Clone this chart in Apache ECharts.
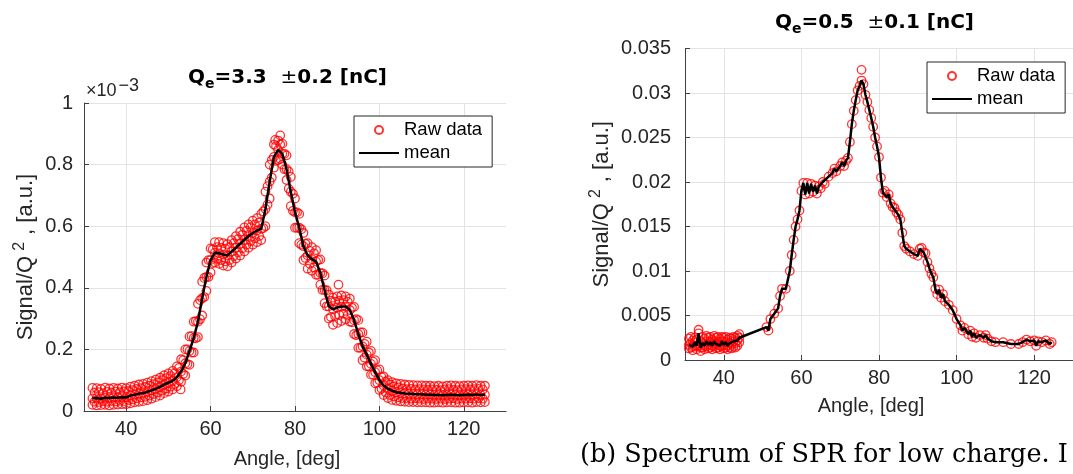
<!DOCTYPE html>
<html lang="en">
  <head>
    <meta charset="UTF-8" />
    <title>SPR spectra</title>
    <style>
      html, body { margin: 0; padding: 0; background: #fff; }
    </style>
  </head>
  <body>
    <div id="main" style="width: 1073px; height: 474px"></div>
    <script src="https://cdn.jsdelivr.net/npm/echarts@6.0.0/dist/echarts.min.js"></script>
    <script>
      // tick values shared by both panels
      const angleTicks = [40, 60, 80, 100, 120];

      // left panel, Q_e = 3.3 nC, signal in units of 1e-3
      const leftAngle = [
        32, 33, 34, 35, 36, 37, 38, 39, 40, 41,
        42, 43, 44, 45, 46, 47, 48, 49, 50, 51,
        52, 53, 54, 55, 56, 57, 58, 59, 60, 61,
        62, 63, 64, 65, 66, 67, 68, 69, 70, 71,
        72, 73, 74, 75, 76, 77, 78, 79, 80, 81,
        82, 83, 84, 85, 86, 87, 88, 89, 90, 91,
        92, 93, 94, 95, 96, 97, 98, 99, 100, 101,
        102, 103, 104, 105, 106, 107, 108, 109, 110, 111,
        112, 113, 114, 115, 116, 117, 118, 119, 120, 121,
        122, 123, 124, 125
      ];
      const leftMean = [
        0.041, 0.042, 0.040, 0.043, 0.042, 0.044, 0.043, 0.045, 0.044, 0.050,
        0.053, 0.056, 0.058, 0.062, 0.067, 0.072, 0.078, 0.086, 0.092, 0.098,
        0.110, 0.128, 0.155, 0.195, 0.237, 0.290, 0.366, 0.435, 0.490, 0.514,
        0.512, 0.508, 0.505, 0.518, 0.530, 0.543, 0.556, 0.568, 0.578, 0.586,
        0.592, 0.656, 0.745, 0.825, 0.848, 0.835, 0.785, 0.712, 0.645, 0.595,
        0.535, 0.505, 0.493, 0.485, 0.448, 0.393, 0.340, 0.330, 0.336, 0.339,
        0.339, 0.328, 0.295, 0.250, 0.210, 0.183, 0.153, 0.126, 0.100, 0.083,
        0.072, 0.066, 0.061, 0.059, 0.057, 0.056, 0.055, 0.054, 0.054, 0.053,
        0.053, 0.052, 0.052, 0.051, 0.052, 0.053, 0.052, 0.051, 0.052, 0.053,
        0.052, 0.054, 0.052, 0.053
      ];
      // outer edges of the raw-data band at whole degrees
      const leftHi = [
        0.075, 0.074, 0.072, 0.076, 0.073, 0.075, 0.073, 0.076, 0.074, 0.079,
        0.082, 0.086, 0.088, 0.092, 0.097, 0.102, 0.108, 0.116, 0.122, 0.130,
        0.145, 0.168, 0.200, 0.242, 0.290, 0.348, 0.420, 0.482, 0.528, 0.548,
        0.548, 0.545, 0.542, 0.555, 0.568, 0.582, 0.596, 0.606, 0.618, 0.626,
        0.640, 0.712, 0.800, 0.865, 0.878, 0.868, 0.830, 0.760, 0.690, 0.640,
        0.578, 0.545, 0.532, 0.522, 0.492, 0.440, 0.378, 0.368, 0.372, 0.375,
        0.372, 0.365, 0.338, 0.295, 0.255, 0.225, 0.195, 0.165, 0.135, 0.112,
        0.100, 0.094, 0.090, 0.088, 0.086, 0.085, 0.084, 0.083, 0.083, 0.082,
        0.082, 0.081, 0.082, 0.080, 0.082, 0.083, 0.082, 0.081, 0.082, 0.083,
        0.082, 0.084, 0.082, 0.082
      ];
      const leftLo = [
        0.020, 0.018, 0.019, 0.020, 0.018, 0.020, 0.021, 0.022, 0.022, 0.025,
        0.028, 0.030, 0.032, 0.035, 0.040, 0.045, 0.050, 0.058, 0.063, 0.070,
        0.080, 0.095, 0.115, 0.150, 0.190, 0.240, 0.310, 0.390, 0.450, 0.482,
        0.478, 0.472, 0.470, 0.482, 0.495, 0.505, 0.518, 0.530, 0.540, 0.548,
        0.555, 0.600, 0.690, 0.790, 0.815, 0.800, 0.750, 0.665, 0.595, 0.545,
        0.490, 0.462, 0.455, 0.442, 0.410, 0.350, 0.300, 0.280, 0.286, 0.292,
        0.298, 0.290, 0.250, 0.205, 0.165, 0.145, 0.118, 0.090, 0.068, 0.052,
        0.042, 0.036, 0.033, 0.031, 0.030, 0.029, 0.029, 0.028, 0.028, 0.028,
        0.027, 0.027, 0.028, 0.027, 0.028, 0.028, 0.027, 0.027, 0.028, 0.028,
        0.027, 0.029, 0.028, 0.029
      ];
      // inner part of the band at half degrees
      const leftHalfAngle = [
        32.5, 33.5, 34.5, 35.5, 36.5, 37.5, 38.5, 39.5, 40.5, 41.5,
        42.5, 43.5, 44.5, 45.5, 46.5, 47.5, 48.5, 49.5, 50.5, 51.5,
        52.5, 53.5, 54.5, 55.5, 56.5, 57.5, 58.5, 59.5, 60.5, 61.5,
        62.5, 63.5, 64.5, 65.5, 66.5, 67.5, 68.5, 69.5, 70.5, 71.5,
        72.5, 73.5, 74.5, 75.5, 76.5, 77.5, 78.5, 79.5, 80.5, 81.5,
        82.5, 83.5, 84.5, 85.5, 86.5, 87.5, 88.5, 89.5, 90.5, 91.5,
        92.5, 93.5, 94.5, 95.5, 96.5, 97.5, 98.5, 99.5, 100.5, 101.5,
        102.5, 103.5, 104.5, 105.5, 106.5, 107.5, 108.5, 109.5, 110.5, 111.5,
        112.5, 113.5, 114.5, 115.5, 116.5, 117.5, 118.5, 119.5, 120.5, 121.5,
        122.5, 123.5, 124.5
      ];
      const leftHalfHi = [
        0.060, 0.061, 0.058, 0.062, 0.060, 0.063, 0.061, 0.064, 0.065, 0.068,
        0.072, 0.074, 0.078, 0.082, 0.087, 0.093, 0.100, 0.107, 0.114, 0.123,
        0.140, 0.165, 0.200, 0.243, 0.292, 0.360, 0.432, 0.490, 0.525, 0.532,
        0.530, 0.527, 0.532, 0.545, 0.558, 0.572, 0.585, 0.597, 0.606, 0.612,
        0.648, 0.730, 0.815, 0.860, 0.865, 0.835, 0.778, 0.705, 0.645, 0.590,
        0.543, 0.520, 0.512, 0.490, 0.447, 0.392, 0.358, 0.355, 0.358, 0.360,
        0.355, 0.335, 0.298, 0.255, 0.218, 0.190, 0.160, 0.132, 0.110, 0.095,
        0.086, 0.080, 0.077, 0.073, 0.071, 0.072, 0.070, 0.071, 0.070, 0.069,
        0.070, 0.069, 0.068, 0.070, 0.071, 0.069, 0.068, 0.070, 0.071, 0.070,
        0.071, 0.072, 0.070
      ];
      const leftHalfLo = [
        0.030, 0.029, 0.031, 0.030, 0.032, 0.031, 0.033, 0.032, 0.035, 0.038,
        0.041, 0.044, 0.046, 0.050, 0.055, 0.060, 0.066, 0.073, 0.079, 0.087,
        0.100, 0.120, 0.152, 0.190, 0.236, 0.298, 0.370, 0.435, 0.480, 0.494,
        0.490, 0.486, 0.490, 0.503, 0.515, 0.528, 0.540, 0.552, 0.561, 0.568,
        0.594, 0.670, 0.758, 0.812, 0.818, 0.785, 0.722, 0.650, 0.595, 0.540,
        0.497, 0.478, 0.466, 0.442, 0.393, 0.340, 0.305, 0.308, 0.312, 0.316,
        0.312, 0.288, 0.246, 0.205, 0.173, 0.145, 0.118, 0.092, 0.072, 0.060,
        0.052, 0.047, 0.044, 0.042, 0.041, 0.040, 0.041, 0.040, 0.039, 0.040,
        0.040, 0.039, 0.040, 0.039, 0.040, 0.041, 0.039, 0.040, 0.040, 0.041,
        0.040, 0.041, 0.040
      ];
      const leftOutliers = [[52.9, 0.07], [75.3, 0.88], [76.5, 0.895], [90.3, 0.41]];

      // right panel, Q_e = 0.5 nC
      const rightAngle = [
        31, 31.5, 32, 32.5, 33, 33.5, 34, 34.5, 35, 35.5, 36, 36.5, 37, 37.5,
        38, 38.5, 39, 39.5, 40, 40.5, 41, 41.5, 42, 42.5, 43, 43.5, 44,
        51, 51.5, 52, 53, 54, 54.5, 55, 56, 57, 57.5, 58, 58.5, 59, 59.5,
        60, 60.5, 61, 61.5, 62, 62.5, 63, 63.5, 64, 64.5, 65, 65.5, 66,
        67, 68, 68.5, 69, 70, 70.5, 71, 71.5, 72, 72.5,
        73, 73.5, 74, 74.5, 75, 75.5, 76, 76.5, 77, 77.5, 78, 78.5, 79, 79.5,
        80, 80.5, 81, 81.5, 82, 82.5, 83, 83.5, 84, 84.5, 85, 85.5, 86, 86.5, 87,
        88, 89, 90, 90.5, 91, 91.5, 92, 92.5, 93, 93.5, 94, 94.5, 95, 95.5,
        96, 96.5, 97, 98, 99,
        100, 101, 101.5, 102, 103, 103.5, 104, 104.5, 105, 106, 107, 107.5, 108, 109,
        110, 112, 114, 116, 117, 118, 119, 120, 120.5, 121, 122, 123, 124, 124.5
      ];
      const rightMean = [
        0.0017, 0.0019, 0.0015, 0.0020, 0.0016, 0.0030, 0.0014, 0.0019, 0.0016, 0.0021, 0.0017, 0.0020, 0.0016, 0.0021,
        0.0018, 0.0020, 0.0016, 0.0021, 0.0017, 0.0020, 0.0016, 0.0019, 0.0018, 0.0021, 0.0019, 0.0022, 0.0025,
        0.0037, 0.0033, 0.0046, 0.0052, 0.0058, 0.0072, 0.0080, 0.0080, 0.0100, 0.0118, 0.0135, 0.0150, 0.0158, 0.0168,
        0.0190, 0.0199, 0.0186, 0.0199, 0.0187, 0.0198, 0.0189, 0.0196, 0.0187, 0.0195, 0.0193, 0.0200, 0.0198,
        0.0206, 0.0210, 0.0215, 0.0212, 0.0218, 0.0222, 0.0218, 0.0224, 0.0227, 0.0245,
        0.0265, 0.0280, 0.0292, 0.0303, 0.0308, 0.0314, 0.0310, 0.0298, 0.0290, 0.0281, 0.0272, 0.0262, 0.0250, 0.0240,
        0.0228, 0.0205, 0.0188, 0.0190, 0.0183, 0.0186, 0.0176, 0.0172, 0.0171, 0.0166, 0.0163, 0.0158, 0.0143, 0.0128, 0.0125,
        0.0122, 0.0119, 0.0117, 0.0125, 0.0126, 0.0121, 0.0120, 0.0110, 0.0103, 0.0097, 0.0093, 0.0080, 0.0074, 0.0079,
        0.0070, 0.0074, 0.0066, 0.0062, 0.0056,
        0.0046, 0.0039, 0.0033, 0.0036, 0.0029, 0.0033, 0.0026, 0.0030, 0.0025, 0.0028, 0.0025, 0.0028, 0.0024, 0.0021,
        0.0020, 0.0020, 0.0018, 0.0018, 0.0020, 0.0023, 0.0021, 0.0022, 0.0016, 0.0021, 0.0020, 0.0022, 0.0018, 0.0020
      ];
      // the crowded stretch at the start of the scan
      const rightDenseAngle = [
        31, 31.5, 32, 32.5, 33, 33.5, 34, 34.5, 35, 35.5, 36, 36.5, 37, 37.5,
        38, 38.5, 39, 39.5, 40, 40.5, 41, 41.5, 42, 42.5, 43, 43.5, 44
      ];
      const rightDenseHi = [
        0.0024, 0.0026, 0.0022, 0.0025, 0.0023, 0.0034, 0.0021, 0.0026, 0.0024, 0.0027, 0.0025, 0.0026, 0.0023, 0.0027,
        0.0025, 0.0026, 0.0024, 0.0026, 0.0025, 0.0026, 0.0023, 0.0025, 0.0024, 0.0026, 0.0025, 0.0027, 0.0029
      ];
      const rightDenseLo = [
        0.0013, 0.0014, 0.0011, 0.0015, 0.0012, 0.0016, 0.0010, 0.0014, 0.0012, 0.0015, 0.0013, 0.0014, 0.0012, 0.0015,
        0.0013, 0.0014, 0.0012, 0.0015, 0.0013, 0.0014, 0.0012, 0.0014, 0.0013, 0.0015, 0.0014, 0.0016, 0.0020
      ];
      const rightOutliers = [[75.5, 0.0326]];

      function zip(xs, ys) {
        return xs.map((x, i) => [x, ys[i]]);
      }
      function spread(xs, ...cols) {
        const pts = [];
        xs.forEach((x, i) => cols.forEach((c) => pts.push([x, c[i]])));
        return pts;
      }

      const ink = "#262626";
      const font = "Liberation Sans";

      function angleAxis(gridIndex, nameGap) {
        return {
          type: "value",
          gridIndex: gridIndex,
          min: 30,
          max: 130,
          name: "Angle, [deg]",
          nameLocation: "middle",
          nameGap: nameGap,
          nameTextStyle: { fontSize: 20, color: ink, padding: [0, 16, 0, 0] },
          axisLine: { lineStyle: { color: "#404040", width: 1 } },
          axisTick: { inside: true, length: 5, customValues: angleTicks, lineStyle: { color: "#404040" } },
          axisLabel: { fontSize: 20, color: ink, margin: 8, customValues: angleTicks },
          splitLine: { show: true, lineStyle: { color: "#e3e3e3", width: 1 } },
        };
      }

      function signalAxis(gridIndex, max, interval, nameGap, margin) {
        return {
          type: "value",
          gridIndex: gridIndex,
          min: 0,
          max: max,
          interval: interval,
          name: "{a|Signal/Q}{p|2}{a|, [a.u.]}",
          nameLocation: "middle",
          nameGap: nameGap,
          nameTextStyle: {
            rich: {
              a: { fontSize: 22, color: ink, lineHeight: 28, verticalAlign: "middle", fontFamily: font },
              p: { fontSize: 16, color: ink, lineHeight: 12, verticalAlign: "top", padding: [0, 7, 0, 5], fontFamily: font },
            },
          },
          axisLine: { show: true, lineStyle: { color: "#404040", width: 1 } },
          axisTick: { show: true, inside: true, length: 5, lineStyle: { color: "#404040" } },
          axisLabel: { fontSize: 20, color: ink, margin: margin },
          splitLine: { show: true, lineStyle: { color: "#e3e3e3", width: 1 } },
        };
      }

      const rawStyle = { color: "rgba(0,0,0,0)", borderColor: "#ff0000", borderWidth: 1.3 };

      function legendAt(left, top) {
        return {
          left: left,
          top: top,
          orient: "vertical",
          data: [
            { name: "Raw data" },
            { name: "mean", itemStyle: { color: "rgba(0,0,0,0)", borderWidth: 0 } },
          ],
          itemWidth: 40,
          itemHeight: 8,
          itemGap: 1,
          padding: [3, 10, 3, 4],
          borderColor: ink,
          borderWidth: 1,
          borderRadius: 0,
          backgroundColor: "#fff",
          selectedMode: false,
          textStyle: { fontSize: 18.5, color: "#000", lineHeight: 22, fontFamily: font },
        };
      }

      const titleFont = "DejaVu Sans";
      const titleRich = {
        b: { fontSize: 20, fontWeight: "bold", fill: "#000", lineHeight: 26, verticalAlign: "middle", fontFamily: titleFont },
        s: { fontSize: 14, fontWeight: "bold", fill: "#000", lineHeight: 6, verticalAlign: "bottom", fontFamily: titleFont },
        n: { fontSize: 20, fontWeight: "normal", fill: "#000", lineHeight: 26, verticalAlign: "middle", fontFamily: titleFont },
      };

      var chartDom = document.getElementById("main");
      var myChart = echarts.init(chartDom, null, { renderer: "canvas" });
      var option = {
        animation: false,
        textStyle: { fontFamily: font },
        grid: [
          { left: 84, top: 103, width: 422, height: 311, containLabel: false },
          { left: 685, top: 48.5, width: 396, height: 311.5, containLabel: false },
        ],
        xAxis: [angleAxis(0, 38), angleAxis(1, 36)],
        yAxis: [signalAxis(0, 1, 0.2, 44, 11), signalAxis(1, 0.035, 0.005, 69, 14)],
        legend: [legendAt(354, 116), legendAt(927, 62)],
        series: [
          {
            name: "Raw data",
            type: "scatter",
            xAxisIndex: 0,
            yAxisIndex: 0,
            symbol: "circle",
            symbolSize: 8.5,
            itemStyle: rawStyle,
            data: spread(leftAngle, leftHi, leftLo, leftMean)
              .concat(spread(leftHalfAngle, leftHalfHi, leftHalfLo))
              .concat(leftOutliers),
          },
          {
            name: "mean",
            type: "line",
            xAxisIndex: 0,
            yAxisIndex: 0,
            showSymbol: false,
            symbol: "none",
            lineStyle: { color: "#000", width: 2.5 },
            itemStyle: { color: "#000" },
            data: zip(leftAngle, leftMean),
          },
          {
            name: "Raw data",
            type: "scatter",
            xAxisIndex: 1,
            yAxisIndex: 1,
            symbol: "circle",
            symbolSize: 8.5,
            itemStyle: rawStyle,
            data: spread(rightDenseAngle, rightDenseHi, rightDenseLo)
              .concat(zip(rightAngle, rightMean))
              .concat(rightOutliers),
          },
          {
            name: "mean",
            type: "line",
            xAxisIndex: 1,
            yAxisIndex: 1,
            showSymbol: false,
            symbol: "none",
            lineStyle: { color: "#000", width: 2.5 },
            itemStyle: { color: "#000" },
            data: zip(rightAngle, rightMean),
          },
        ],
        graphic: [
          {
            type: "text",
            left: 188,
            top: 68,
            style: { text: "{b|Q}{s|e}{b|=3.3  }{n|±}{b|0.2 [nC]}", rich: titleRich },
          },
          {
            type: "text",
            left: 775,
            top: 13,
            style: { text: "{b|Q}{s|e}{b|=0.5  }{n|±}{b|0.1 [nC]}", rich: titleRich },
          },
          {
            type: "text",
            left: 86,
            top: 77,
            style: {
              text: "{a|×10}{p|−3}",
              rich: {
                a: { fontSize: 18, fill: ink, lineHeight: 28, verticalAlign: "middle", fontFamily: font },
                p: { fontSize: 18, fill: ink, lineHeight: 12, verticalAlign: "top", padding: [0, 0, 0, 2], fontFamily: font },
              },
            },
          },
          {
            type: "text",
            left: 580,
            top: 442,
            style: {
              text: "(b) Spectrum of SPR for low charge. I",
              fill: "#000",
              fontSize: 25.5,
              fontFamily: "DejaVu Serif",
            },
          },
        ],
      };
      myChart.setOption(option);
    </script>
  </body>
</html>
